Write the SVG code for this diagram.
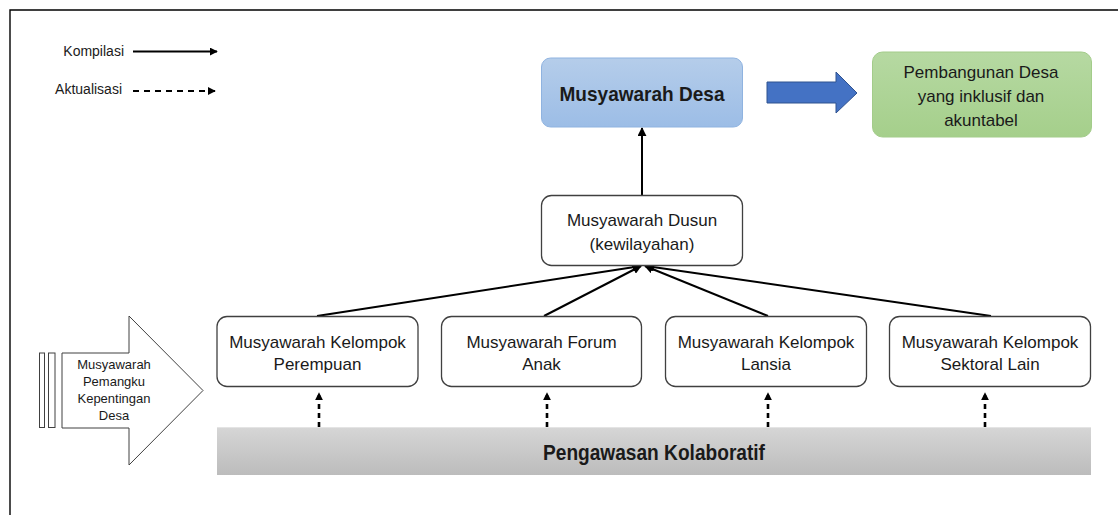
<svg xmlns="http://www.w3.org/2000/svg" width="1118" height="515" viewBox="0 0 1118 515">
<defs>
<style>
.t{font-family:"Liberation Sans",Arial,sans-serif;fill:#1a1a1a;text-anchor:middle}
.box{fill:#fff;stroke:#404040;stroke-width:1.3}
.con{stroke:#000;stroke-width:2;fill:none}
.dash{stroke:#000;stroke-width:2.6;stroke-dasharray:5 4;fill:none}
</style>
<linearGradient id="gBlue" x1="0" y1="0" x2="0" y2="1"><stop offset="0" stop-color="#b5cdea"/><stop offset="1" stop-color="#9cbde6"/></linearGradient>
<linearGradient id="gGreen" x1="0" y1="0" x2="0" y2="1"><stop offset="0" stop-color="#b6d9a2"/><stop offset="1" stop-color="#a5cf8b"/></linearGradient>
<linearGradient id="gGray" x1="0" y1="0" x2="0" y2="1"><stop offset="0" stop-color="#d6d6d6"/><stop offset="1" stop-color="#bcbcbc"/></linearGradient>
<marker id="ah" markerWidth="8" markerHeight="8" viewBox="0 0 10 10" refX="9" refY="5" orient="auto" markerUnits="userSpaceOnUse"><path d="M0,0 L10,5 L0,10 z" fill="#000"/></marker>
<marker id="ahs" markerWidth="9" markerHeight="9" viewBox="0 0 10 10" refX="9" refY="5" orient="auto" markerUnits="userSpaceOnUse"><path d="M0,0 L10,5 L0,10 z" fill="#000"/></marker>
</defs>
<rect width="1118" height="515" fill="#fff"/>
<path d="M10,515 V10 H1118" fill="none" stroke="#000" stroke-width="1.4"/>

<g id="legend">
<text class="t" x="124" y="56" font-size="14" text-anchor="end" style="text-anchor:end">Kompilasi</text>
<line x1="133" y1="51.5" x2="217" y2="51.5" stroke="#000" stroke-width="1.8" marker-end="url(#ah)"/>
<text class="t" x="122" y="94" font-size="14" style="text-anchor:end">Aktualisasi</text>
<line x1="133" y1="91" x2="215" y2="91" stroke="#000" stroke-width="1.8" stroke-dasharray="6 5" marker-end="url(#ah)"/>
</g>

<g id="connectors">
<line class="con" x1="642" y1="195" x2="642" y2="128" marker-end="url(#ahs)"/>
<line class="con" x1="317" y1="316" x2="641" y2="266" marker-end="url(#ahs)"/>
<line class="con" x1="544" y1="316" x2="641" y2="266" marker-end="url(#ahs)"/>
<line class="con" x1="768" y1="316" x2="645" y2="266" marker-end="url(#ahs)"/>
<line class="con" x1="991" y1="316" x2="646" y2="266" marker-end="url(#ahs)"/>
<line class="dash" x1="319" y1="427" x2="319" y2="393" marker-end="url(#ah)"/>
<line class="dash" x1="547" y1="427" x2="547" y2="393" marker-end="url(#ah)"/>
<line class="dash" x1="768" y1="427" x2="768" y2="393" marker-end="url(#ah)"/>
<line class="dash" x1="985" y1="427" x2="985" y2="393" marker-end="url(#ah)"/>
<polygon points="767,82 836,82 836,72 857,93 836,113 836,103 767,103" fill="#4472c4" stroke="#2f528f" stroke-width="1"/>
</g>

<g id="musyawarah-desa">
<rect x="541.5" y="58" width="201" height="69" rx="9" fill="url(#gBlue)" stroke="#8fb3e0" stroke-width="1"/>
<text class="t" x="642" y="101" font-size="21" font-weight="bold" textLength="165" lengthAdjust="spacingAndGlyphs">Musyawarah Desa</text>
</g>

<g id="pembangunan">
<rect x="872.5" y="52" width="219" height="85" rx="10" fill="url(#gGreen)" stroke="#a3cc8a" stroke-width="1"/>
<text class="t" x="981" y="78" font-size="17">Pembangunan Desa</text>
<text class="t" x="981" y="102" font-size="17">yang inklusif dan</text>
<text class="t" x="981" y="126" font-size="17">akuntabel</text>
</g>

<g id="musyawarah-dusun">
<rect class="box" x="541.5" y="195.5" width="201" height="70" rx="10"/>
<text class="t" x="642" y="226" font-size="17">Musyawarah Dusun</text>
<text class="t" x="642" y="250" font-size="17">(kewilayahan)</text>
</g>

<g id="kelompok-perempuan">
<rect class="box" x="217" y="316.5" width="201" height="70" rx="10"/>
<text class="t" x="317.5" y="348" font-size="17">Musyawarah Kelompok</text>
<text class="t" x="317.5" y="370" font-size="17">Perempuan</text>
</g>
<g id="forum-anak">
<rect class="box" x="441.5" y="316.5" width="200" height="70" rx="10"/>
<text class="t" x="541.5" y="348" font-size="17">Musyawarah Forum</text>
<text class="t" x="541.5" y="370" font-size="17">Anak</text>
</g>
<g id="kelompok-lansia">
<rect class="box" x="665.5" y="316.5" width="201" height="70" rx="10"/>
<text class="t" x="766" y="348" font-size="17">Musyawarah Kelompok</text>
<text class="t" x="766" y="370" font-size="17">Lansia</text>
</g>
<g id="kelompok-sektoral">
<rect class="box" x="889.5" y="316.5" width="201" height="70" rx="10"/>
<text class="t" x="990" y="348" font-size="17">Musyawarah Kelompok</text>
<text class="t" x="990" y="370" font-size="17">Sektoral Lain</text>
</g>

<g id="pengawasan">
<rect x="217" y="427" width="874" height="48" fill="url(#gGray)"/>
<line x1="217" y1="427.5" x2="1091" y2="427.5" stroke="#e4e4e4" stroke-width="1"/>
<text class="t" x="654" y="460" font-size="22" font-weight="bold" textLength="222" lengthAdjust="spacingAndGlyphs">Pengawasan Kolaboratif</text>
</g>

<g id="pemangku">
<rect x="39.5" y="353" width="5" height="74.5" fill="#fff" stroke="#404040" stroke-width="1"/>
<rect x="48.5" y="353" width="6.5" height="74.5" fill="#fff" stroke="#404040" stroke-width="1"/>
<polygon points="62,353 129,353 129,316 203,390.5 129,465 129,428 62,428" fill="#fff" stroke="#404040" stroke-width="1"/>
<text class="t" x="114" y="369" font-size="13">Musyawarah</text>
<text class="t" x="114" y="386" font-size="13">Pemangku</text>
<text class="t" x="114" y="403" font-size="13">Kepentingan</text>
<text class="t" x="114" y="420" font-size="13">Desa</text>
</g>
</svg>
